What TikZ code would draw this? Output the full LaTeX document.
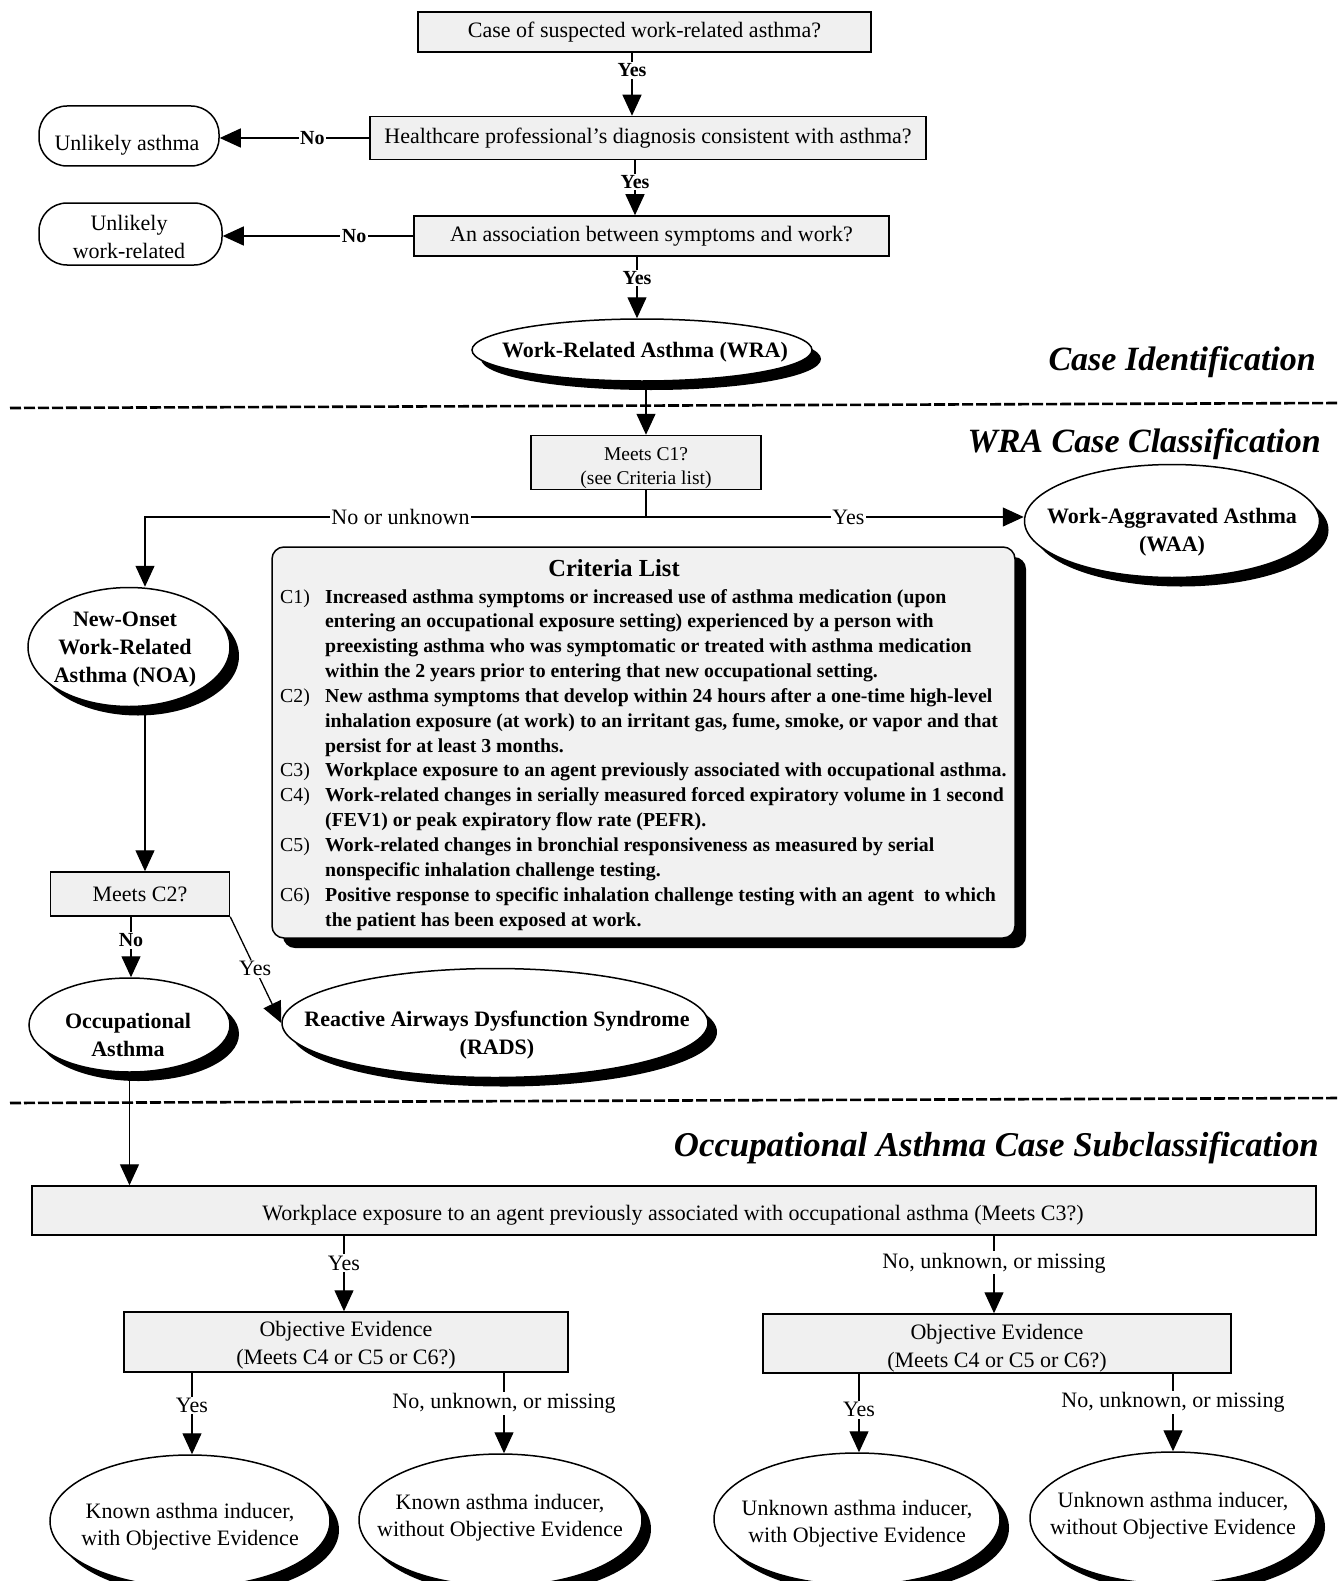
\documentclass[tikz,border=0pt]{standalone}
\usepackage{fontspec}
\setmainfont{Liberation Serif}
\usetikzlibrary{arrows.meta,shadows,shapes.geometric}
\definecolor{boxgray}{HTML}{F0F0F0}
\definecolor{critgray}{HTML}{F1F1F1}
\begin{document}
\begin{tikzpicture}[x=1pt,y=-1pt,
  every node/.style={inner sep=0pt},
  box/.style={draw, line width=1.5pt, fill=boxgray, align=center, font=\fontsize{22}{28}\selectfont},
  boxtxt/.style={align=center, font=\fontsize{22}{28}\selectfont},
  pill/.style={draw, line width=1.5pt, rounded corners=28pt, fill=white},
  oval/.style={ellipse, draw, line width=1.5pt, fill=white, drop shadow={shadow xshift=9pt, shadow yshift=-9pt, fill=black, opacity=1}},
  ovaltxt/.style={align=center, font=\bfseries\fontsize{22}{28}\selectfont},
  circtxt/.style={align=center, font=\fontsize{22}{27}\selectfont},
  critbox/.style={draw, line width=1.5pt, rounded corners=12pt, fill=critgray, drop shadow={shadow xshift=11pt, shadow yshift=-10pt, fill=black, opacity=1}},
  conn/.style={line width=1.3pt},
  arr/.style={conn, -{Triangle[length=21pt,width=19pt]}},
  blbl/.style={fill=white, inner sep=1.5pt, font=\bfseries\fontsize{20}{24}\selectfont},
  rlbl/.style={fill=white, inner sep=1.5pt, font=\fontsize{22}{26}\selectfont},
  sect/.style={anchor=base east, font=\bfseries\itshape\fontsize{34}{40}\selectfont},
  divider/.style={line width=2.6pt, dash pattern=on 11pt off 3pt},
]
\path[use as bounding box] (0,0) rectangle (1340,1581);
\clip (0,0) rectangle (1340,1581);

% lanes for vertical connectors
\coordinate (lane1) at (632,0);
\coordinate (lane2) at (635,0);
\coordinate (lane3) at (637,0);
\coordinate (lane4) at (145,0);
\coordinate (lane5) at (131,0);
\coordinate (lane6) at (344,0);
\coordinate (lane7) at (994,0);
\coordinate (lane8) at (192,0);
\coordinate (lane9) at (504,0);
\coordinate (lane10) at (859,0);
\coordinate (lane11) at (1173,0);

% ---------- Case identification ----------
\node[box, minimum width=453pt, minimum height=40pt] (q1) at (644.5,32) {Case of suspected work-related asthma?};
\node[box, minimum width=556pt, minimum height=43pt] (q2) at (648,138) {Healthcare professional's diagnosis consistent with asthma?};
\node[box, minimum width=475pt, minimum height=40pt] (q3) at (651.5,236) {An association between symptoms and work?};
\node[pill, minimum width=180pt, minimum height=60pt] (ua) at (129,136) {};
\node[boxtxt] (uat) at (127,145) {Unlikely asthma};
\node[pill, minimum width=183pt, minimum height=62pt] (uw) at (130.5,234) {};
\node[boxtxt] (uwt) at (129,237) {Unlikely\\work-related};
\node[oval, minimum width=340pt, minimum height=62pt] (wra) at (642,350) {};
\node[ovaltxt] (wrat) at (645,352) {Work-Related Asthma (WRA)};

\draw[arr] (q1.south -| lane1) -- node[blbl, pos=.28] {Yes} (q2.north -| lane1);
\draw[arr] (q2.south -| lane2) -- node[blbl, pos=.39] {Yes} (q3.north -| lane2);
\draw[arr] (q3.south -| lane3) -- node[blbl, pos=.35] {Yes} (wra.north -| lane3);
\draw[arr] (q2.west) -- node[blbl, pos=.38] {No} (ua.east |- q2.west);
\draw[arr] (q3.west) -- node[blbl, pos=.31] {No} (uw.east |- q3.west);

\node[sect] (t1) at (1316,370) {Case Identification};
\draw[divider] (10,408) -- (1340,403);

% ---------- WRA case classification ----------
\node[sect] (t2) at (1321,452) {WRA Case Classification};
\node[box, minimum width=230pt, minimum height=54pt] (c1) at (646,462.5) {};
\node[boxtxt, font=\fontsize{19.5}{24}\selectfont] (c1t) at (646,468.5) {Meets C1?\\(see Criteria list)};
\draw[arr] (wra.south -| c1.north) -- (c1.north);

\node[oval, minimum width=295pt, minimum height=113pt] (waa) at (1172,521) {};
\node[ovaltxt] (waat) at (1172,532) {Work-Aggravated Asthma\\(WAA)};
\node[oval, minimum width=202pt, minimum height=119pt] (noa) at (129,647) {};
\node[ovaltxt] (noat) at (125,650) {New-Onset\\Work-Related\\Asthma (NOA)};

\coordinate (j1) at (646,517);
\draw[conn] (c1.south) -- (j1);
\draw[arr] (j1) -- node[rlbl, pos=.49] {No or unknown} (j1 -| lane4) -- (noa.north -| lane4);
\draw[arr] (j1) -- node[rlbl, pos=.536] {Yes} (waa.west |- j1);

% criteria list
\node[critbox, minimum width=743pt, minimum height=391pt] (crit) at (643.5,742.5) {};
\node[font=\bfseries\fontsize{24.5}{28}\selectfont] (crittitle) at (614,568) {Criteria List};
\node[anchor=base west, font=\bfseries\fontsize{19.8}{24.85}\selectfont] (critlist) at (280,603) {%
\begin{tabular}[t]{@{}l@{}l@{}}
\makebox[45pt][l]{\mdseries C1)} & Increased asthma symptoms or increased use of asthma medication (upon\\
 & entering an occupational exposure setting) experienced by a person with\\
 & preexisting asthma who was symptomatic or treated with asthma medication\\
 & within the 2 years prior to entering that new occupational setting.\\
\makebox[45pt][l]{\mdseries C2)} & New asthma symptoms that develop within 24 hours after a one-time high-level\\
 & inhalation exposure (at work) to an irritant gas, fume, smoke, or vapor and that\\
 & persist for at least 3 months.\\
\makebox[45pt][l]{\mdseries C3)} & Workplace exposure to an agent previously associated with occupational asthma.\\
\makebox[45pt][l]{\mdseries C4)} & Work-related changes in serially measured forced expiratory volume in 1 second\\
 & (FEV1) or peak expiratory flow rate (PEFR).\\
\makebox[45pt][l]{\mdseries C5)} & Work-related changes in bronchial responsiveness as measured by serial\\
 & nonspecific inhalation challenge testing.\\
\makebox[45pt][l]{\mdseries C6)} & Positive response to specific inhalation challenge testing with an agent\ \ to which\\
 & the patient has been exposed at work.
\end{tabular}};

\node[box, minimum width=179pt, minimum height=44pt] (c2) at (140,894) {Meets C2?};
\draw[arr] (noa.south -| lane4) -- (c2.north -| lane4);

\node[oval, minimum width=201pt, minimum height=94pt] (occ) at (129.5,1025) {};
\node[ovaltxt] (occt) at (128,1035) {Occupational\\Asthma};
\node[oval, minimum width=426pt, minimum height=109pt] (rads) at (495,1023) {};
\node[ovaltxt] (radst) at (497,1035) {Reactive Airways Dysfunction Syndrome\\(RADS)};

\draw[arr] (c2.south -| lane5) -- node[blbl, pos=.39] {No} (occ.north -| lane5);
\draw[arr] (c2.south east) -- node[rlbl, pos=.49] {Yes} (rads.west);

\draw[divider] (10,1103) -- (1340,1098);

% ---------- Occupational asthma subclassification ----------
\node[sect, font=\bfseries\itshape\fontsize{34.8}{40}\selectfont] (t3) at (1319,1156) {Occupational Asthma Case Subclassification};
\node[box, minimum width=1284pt, minimum height=49pt] (big) at (674,1210.5) {};
\node[boxtxt] (bigt) at (673,1215) {Workplace exposure to an agent previously associated with occupational asthma (Meets C3?)};
\draw[arr] (occ.south) -- (big.north -| occ.south);

\node[box, minimum width=444pt, minimum height=60pt] (objl) at (346,1342) {};
\node[boxtxt] (objlt) at (346,1345) {Objective Evidence\\(Meets C4 or C5 or C6?)};
\node[box, minimum width=468pt, minimum height=59pt] (objr) at (997,1343.5) {};
\node[boxtxt] (objrt) at (997,1348) {Objective Evidence\\(Meets C4 or C5 or C6?)};

\draw[arr] (big.south -| lane6) -- node[rlbl, pos=.36] {Yes} (objl.north -| lane6);
\draw[arr] (big.south -| lane7) -- node[rlbl, pos=.35] {No, unknown, or missing} (objr.north -| lane7);

\node[oval, minimum width=280pt, minimum height=132pt] (k1) at (190,1521) {};
\node[circtxt] (k1t) at (190,1527) {Known asthma inducer,\\with Objective Evidence};
\node[oval, minimum width=283pt, minimum height=132pt] (k2) at (500.5,1520) {};
\node[circtxt] (k2t) at (500,1518) {Known asthma inducer,\\without Objective Evidence};
\node[oval, minimum width=286pt, minimum height=132pt] (u1) at (857,1519) {};
\node[circtxt] (u1t) at (857,1524) {Unknown asthma inducer,\\with Objective Evidence};
\node[oval, minimum width=286pt, minimum height=132pt] (u2) at (1173,1518) {};
\node[circtxt] (u2t) at (1173,1516) {Unknown asthma inducer,\\without Objective Evidence};

\draw[arr] (objl.south -| lane8) -- node[rlbl, pos=.4] {Yes} (k1.north -| lane8);
\draw[arr] (objl.south -| lane9) -- node[rlbl, pos=.38] {No, unknown, or missing} (k2.north -| lane9);
\draw[arr] (objr.south -| lane10) -- node[rlbl, pos=.46] {Yes} (u1.north -| lane10);
\draw[arr] (objr.south -| lane11) -- node[rlbl, pos=.37] {No, unknown, or missing} (u2.north -| lane11);
\end{tikzpicture}
\end{document}
